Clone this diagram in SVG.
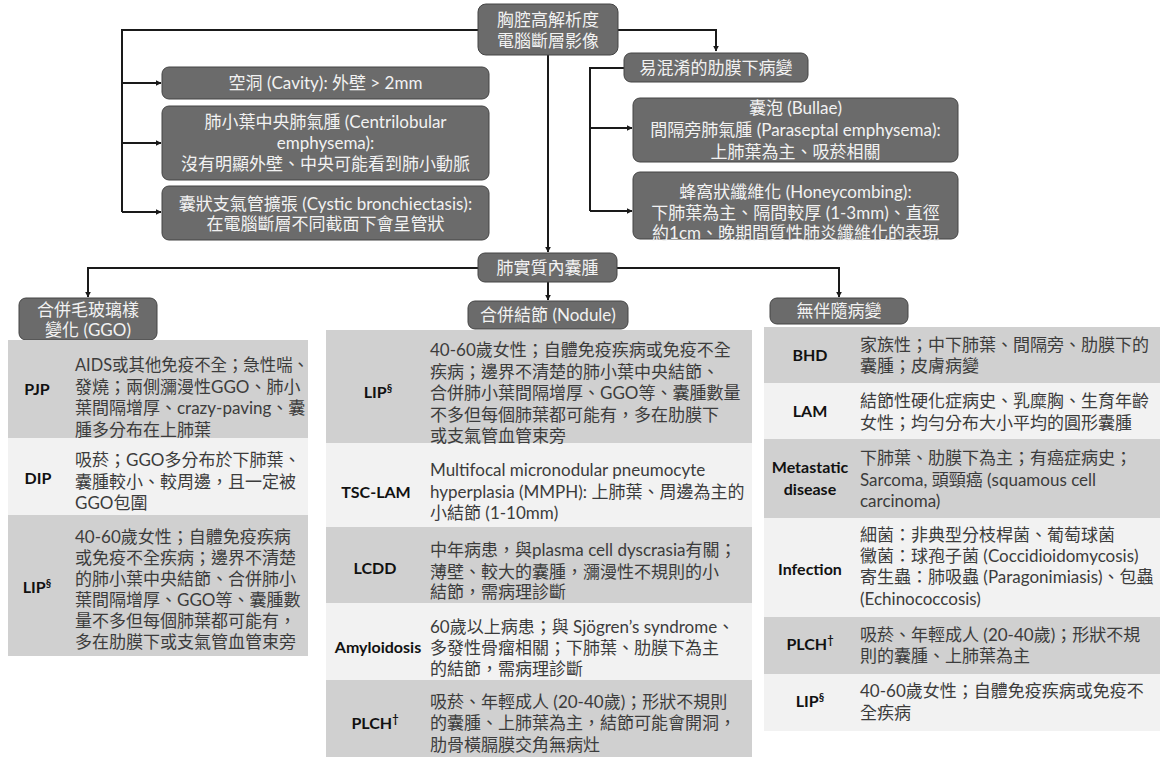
<svg xmlns="http://www.w3.org/2000/svg" width="1163" height="759" viewBox="0 0 1163 759">
<defs>
<marker id="arr" viewBox="0 0 10 10" refX="9" refY="5" markerWidth="6" markerHeight="6" markerUnits="userSpaceOnUse" orient="auto">
<path d="M0,0 L10,5 L0,10 z" fill="#1a1a1a"/>
</marker>
<style>
.node{fill:#6b6b6b;stroke:#444;stroke-width:1}
.nt{font-family:Lato,"Noto Sans CJK TC",sans-serif;font-size:17px;fill:#f2f2f2;text-anchor:middle}
.con{fill:none;stroke:#1a1a1a;stroke-width:2}
.dk{fill:#d0d0d0}
.lt{fill:#f2f2f2}
.lb{font-family:Lato,"Noto Sans CJK TC",sans-serif;font-size:16px;font-weight:bold;fill:#111;text-anchor:middle}
.bt{font-family:Lato,"Noto Sans CJK TC",sans-serif;font-size:17px;fill:#3c3c3c}
.sup{font-size:11px}
</style>
</defs>
<rect width="1163" height="759" fill="#fff"/>

<g id="connectors">
<path class="con" d="M478,30 H122 V212"/>
<path class="con" d="M122,83 H161" marker-end="url(#arr)"/>
<path class="con" d="M122,143 H161" marker-end="url(#arr)"/>
<path class="con" d="M122,212 H161" marker-end="url(#arr)"/>
<path class="con" d="M618,30 H716 V51" marker-end="url(#arr)"/>
<path class="con" d="M624,68 H590 V211"/>
<path class="con" d="M590,128 H632" marker-end="url(#arr)"/>
<path class="con" d="M590,211 H632" marker-end="url(#arr)"/>
<path class="con" d="M548,55 V252" marker-end="url(#arr)"/>
<path class="con" d="M478,268 H88 V297" marker-end="url(#arr)"/>
<path class="con" d="M617,268 H839 V297" marker-end="url(#arr)"/>
<path class="con" d="M548,282 V300" marker-end="url(#arr)"/>
</g>

<g id="n-root">
<rect class="node" x="478" y="4" width="140" height="51" rx="8"/>
<text class="nt" x="548" y="26">胸腔高解析度</text>
<text class="nt" x="548" y="47">電腦斷層影像</text>
</g>

<g id="n-cavity">
<rect class="node" x="162" y="67" width="327" height="32" rx="7"/>
<text class="nt" x="325.5" y="89">空洞 (Cavity): 外壁 &gt; 2mm</text>
</g>

<g id="n-centrilobular">
<rect class="node" x="162" y="106" width="327" height="74" rx="7"/>
<text class="nt" x="325.5" y="128">肺小葉中央肺氣腫 (Centrilobular</text>
<text class="nt" x="325.5" y="149">emphysema):</text>
<text class="nt" x="325.5" y="170">沒有明顯外壁、中央可能看到肺小動脈</text>
</g>

<g id="n-cystic">
<rect class="node" x="162" y="186" width="327" height="54" rx="7"/>
<text class="nt" x="325.5" y="210">囊狀支氣管擴張 (Cystic bronchiectasis):</text>
<text class="nt" x="325.5" y="230">在電腦斷層不同截面下會呈管狀</text>
</g>

<g id="n-subpleural">
<rect class="node" x="624" y="53" width="184" height="29" rx="7"/>
<text class="nt" x="716" y="74">易混淆的肋膜下病變</text>
</g>

<g id="n-bullae">
<rect class="node" x="633" y="98" width="325" height="64" rx="7"/>
<text class="nt" x="795.5" y="114">囊泡 (Bullae)</text>
<text class="nt" x="795.5" y="136">間隔旁肺氣腫 (Paraseptal emphysema):</text>
<text class="nt" x="795.5" y="158">上肺葉為主、吸菸相關</text>
</g>

<g id="n-honeycomb">
<rect class="node" x="633" y="172" width="325" height="67" rx="7"/>
<text class="nt" x="795.5" y="198">蜂窩狀纖維化 (Honeycombing):</text>
<text class="nt" x="795.5" y="219">下肺葉為主、隔間較厚 (1-3mm)、直徑</text>
<text class="nt" x="795.5" y="239">約1cm、晚期間質性肺炎纖維化的表現</text>
</g>

<g id="n-cyst">
<rect class="node" x="478" y="253" width="139" height="29" rx="7"/>
<text class="nt" x="547.5" y="274">肺實質內囊腫</text>
</g>

<g id="n-ggo">
<rect class="node" x="19" y="298" width="138" height="42" rx="7"/>
<text class="nt" x="88" y="316">合併毛玻璃樣</text>
<text class="nt" x="88" y="336">變化 (GGO)</text>
</g>

<g id="n-nodule">
<rect class="node" x="468" y="301" width="160" height="28" rx="7"/>
<text class="nt" x="548" y="321">合併結節 (Nodule)</text>
</g>

<g id="n-none">
<rect class="node" x="770" y="298" width="138" height="26" rx="7"/>
<text class="nt" x="839" y="317">無伴隨病變</text>
</g>

<g id="t-ggo">
<rect class="dk" x="8" y="340" width="300" height="98"/>
<rect class="lt" x="8" y="438" width="300" height="77"/>
<rect class="dk" x="8" y="515" width="300" height="141"/>
<text class="lb" x="37" y="395">PJP</text>
<text class="bt" x="75" y="371" textLength="234" lengthAdjust="spacingAndGlyphs">AIDS或其他免疫不全；急性喘、</text>
<text class="bt" x="75" y="392.5">發燒；兩側瀰漫性GGO、肺小</text>
<text class="bt" x="75" y="414">葉間隔增厚、crazy-paving、囊</text>
<text class="bt" x="75" y="435.5">腫多分布在上肺葉</text>
<text class="lb" x="38" y="484">DIP</text>
<text class="bt" x="75" y="466">吸菸；GGO多分布於下肺葉、</text>
<text class="bt" x="75" y="487.5">囊腫較小、較周邊，且一定被</text>
<text class="bt" x="75" y="509">GGO包圍</text>
<text class="lb" x="37" y="593">LIP<tspan class="sup" dy="-6">§</tspan></text>
<text class="bt" x="75" y="543">40-60歲女性；自體免疫疾病</text>
<text class="bt" x="75" y="564">或免疫不全疾病；邊界不清楚</text>
<text class="bt" x="75" y="585">的肺小葉中央結節、合併肺小</text>
<text class="bt" x="75" y="606">葉間隔增厚、GGO等、囊腫數</text>
<text class="bt" x="75" y="627">量不多但每個肺葉都可能有，</text>
<text class="bt" x="75" y="648">多在肋膜下或支氣管血管束旁</text>
</g>

<g id="t-nodule">
<rect class="dk" x="326" y="330" width="426" height="113"/>
<rect class="lt" x="326" y="443" width="426" height="84"/>
<rect class="dk" x="326" y="527" width="426" height="76"/>
<rect class="lt" x="326" y="603" width="426" height="77"/>
<rect class="dk" x="326" y="680" width="426" height="77"/>
<text class="lb" x="378" y="398">LIP<tspan class="sup" dy="-6">§</tspan></text>
<text class="bt" x="430" y="356">40-60歲女性；自體免疫疾病或免疫不全</text>
<text class="bt" x="430" y="377.5">疾病；邊界不清楚的肺小葉中央結節、</text>
<text class="bt" x="430" y="399">合併肺小葉間隔增厚、GGO等、囊腫數量</text>
<text class="bt" x="430" y="420.5">不多但每個肺葉都可能有，多在肋膜下</text>
<text class="bt" x="430" y="442">或支氣管血管束旁</text>
<text class="lb" x="376" y="498">TSC-LAM</text>
<text class="bt" x="430" y="476">Multifocal micronodular pneumocyte</text>
<text class="bt" x="430" y="497.5">hyperplasia (MMPH): 上肺葉、周邊為主的</text>
<text class="bt" x="430" y="519">小結節 (1-10mm)</text>
<text class="lb" x="375" y="574">LCDD</text>
<text class="bt" x="430" y="556">中年病患，與plasma cell dyscrasia有關；</text>
<text class="bt" x="430" y="577.5">薄壁、較大的囊腫，瀰漫性不規則的小</text>
<text class="bt" x="430" y="598">結節，需病理診斷</text>
<text class="lb" x="378" y="653">Amyloidosis</text>
<text class="bt" x="430" y="632.5">60歲以上病患；與 Sjögren’s syndrome、</text>
<text class="bt" x="430" y="654">多發性骨瘤相關；下肺葉、肋膜下為主</text>
<text class="bt" x="430" y="674.5">的結節，需病理診斷</text>
<text class="lb" x="375" y="729">PLCH<tspan class="sup" dy="-6">†</tspan></text>
<text class="bt" x="430" y="707.5">吸菸、年輕成人 (20-40歲)；形狀不規則</text>
<text class="bt" x="430" y="729">的囊腫、上肺葉為主，結節可能會開洞，</text>
<text class="bt" x="430" y="751">肋骨橫膈膜交角無病灶</text>
</g>

<g id="t-none">
<rect class="dk" x="764" y="327" width="396" height="56"/>
<rect class="lt" x="764" y="383" width="396" height="56"/>
<rect class="dk" x="764" y="439" width="396" height="79"/>
<rect class="lt" x="764" y="518" width="396" height="99"/>
<rect class="dk" x="764" y="617" width="396" height="57"/>
<rect class="lt" x="764" y="674" width="396" height="57"/>
<text class="lb" x="810" y="361">BHD</text>
<text class="bt" x="860" y="350.5">家族性；中下肺葉、間隔旁、肋膜下的</text>
<text class="bt" x="860" y="372">囊腫；皮膚病變</text>
<text class="lb" x="810" y="417">LAM</text>
<text class="bt" x="860" y="407">結節性硬化症病史、乳糜胸、生育年齡</text>
<text class="bt" x="860" y="429">女性；均勻分布大小平均的圓形囊腫</text>
<text class="lb" x="810" y="473">Metastatic</text>
<text class="lb" x="810" y="495">disease</text>
<text class="bt" x="860" y="464">下肺葉、肋膜下為主；有癌症病史；</text>
<text class="bt" x="860" y="485.5">Sarcoma, 頭頸癌 (squamous cell</text>
<text class="bt" x="860" y="507">carcinoma)</text>
<text class="lb" x="810" y="575">Infection</text>
<text class="bt" x="860" y="541">細菌：非典型分枝桿菌、葡萄球菌</text>
<text class="bt" x="860" y="562">黴菌：球孢子菌 (Coccidioidomycosis)</text>
<text class="bt" x="860" y="583">寄生蟲：肺吸蟲 (Paragonimiasis)、包蟲</text>
<text class="bt" x="860" y="605">(Echinococcosis)</text>
<text class="lb" x="810" y="650">PLCH<tspan class="sup" dy="-6">†</tspan></text>
<text class="bt" x="860" y="641">吸菸、年輕成人 (20-40歲)；形狀不規</text>
<text class="bt" x="860" y="662">則的囊腫、上肺葉為主</text>
<text class="lb" x="810" y="707">LIP<tspan class="sup" dy="-6">§</tspan></text>
<text class="bt" x="860" y="697">40-60歲女性；自體免疫疾病或免疫不</text>
<text class="bt" x="860" y="719">全疾病</text>
</g>
</svg>
